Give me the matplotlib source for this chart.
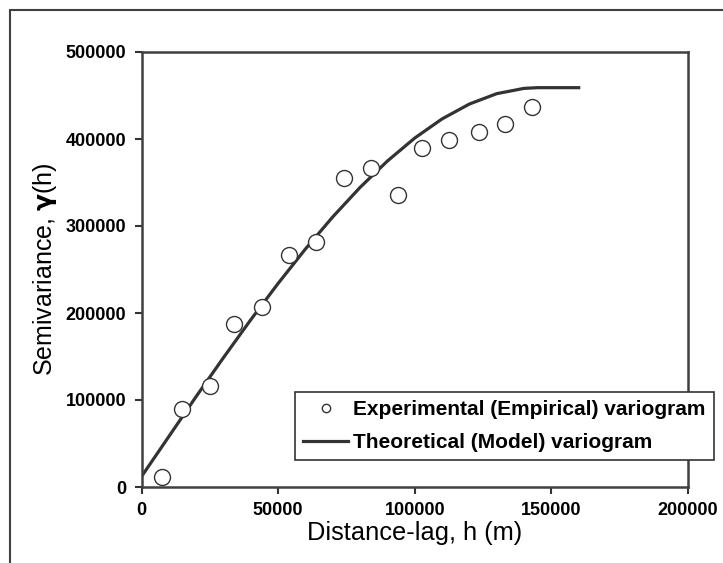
import matplotlib
matplotlib.use("Agg")
import matplotlib.pyplot as plt
from matplotlib.patches import Rectangle

# Experimental (empirical) variogram points
lag_h = [7500, 15000, 25000, 34000, 44000, 54000, 64000, 74000, 84000,
         94000, 102500, 112500, 123500, 133000, 143000]
semivar = [11000, 90000, 116000, 187000, 207000, 267000, 282000, 355000,
           367000, 336000, 390000, 399000, 408000, 417000, 437000]

# Theoretical (model) variogram
model_h = [0, 10000, 20000, 30000, 40000, 50000, 60000, 70000, 80000,
           90000, 100000, 110000, 120000, 130000, 140000, 145000, 160000]
model_gamma = [12000, 58000, 104000, 148700, 192300, 234000, 273600, 310500,
               344400, 374700, 401100, 423100, 440200, 452100, 458200,
               459000, 459000]

x_ticks = [0, 50000, 100000, 150000, 200000]
y_ticks = [0, 100000, 200000, 300000, 400000, 500000]

plt.rcParams['font.family'] = ['Liberation Sans', 'DejaVu Sans']

W, H = 723, 563
fig = plt.figure(figsize=(W / 100, H / 100), dpi=100)
fig.patch.set_facecolor('white')

# outer chart-area frame (partly cropped by the image edge)
fig.add_artist(Rectangle((10 / W, -0.2), 1.5, (H - 10) / H + 0.2,
                         transform=fig.transFigure, fill=False,
                         edgecolor='#404040', linewidth=1.5))

ax = fig.add_axes([141.5 / W, (H - 487) / H, (688 - 141.5) / W, (487 - 52) / H])

ax.plot(model_h, model_gamma, color='#333333', linewidth=2.3,
        label='Theoretical (Model) variogram', zorder=2)
ax.plot(lag_h, semivar, linestyle='none', marker='o', markersize=11.5,
        markerfacecolor='white', markeredgecolor='#333333',
        markeredgewidth=1.0, label='Experimental (Empirical) variogram',
        zorder=3)

ax.set_xlim(0, 200000)
ax.set_ylim(0, 500000)
ax.set_xticks(x_ticks)
ax.set_yticks(y_ticks)
ax.set_xticklabels([str(v) for v in x_ticks], fontsize=13, fontweight='bold')
ax.set_yticklabels([str(v) for v in y_ticks], fontsize=13, fontweight='bold')
ax.tick_params(axis='both', direction='out', length=5, width=1.5,
               color='#333333', pad=6)
for s in ax.spines.values():
    s.set_linewidth(1.8)
    s.set_color('#404040')

ax.set_xlabel('Distance-lag, h (m)', fontsize=18.3, labelpad=1)
ax.set_ylabel('Semivariance, $\\mathbf{\\gamma}$(h)', fontsize=18, labelpad=5)

handles, labels = ax.get_legend_handles_labels()
leg = ax.legend(handles[::-1], labels[::-1], loc='upper left',
                bbox_to_anchor=((295 - 141.5) / (688 - 141.5),
                                (487 - 392) / (487 - 52)),
                prop={'weight': 'bold', 'size': 15.0}, frameon=True,
                fancybox=False, framealpha=1, edgecolor='#333333',
                borderpad=0.4, handlelength=2.15, handletextpad=0.25,
                labelspacing=0.65, borderaxespad=0)
leg.get_frame().set_linewidth(1.2)
leg.legend_handles[0].set_markersize(6)
leg.set_clip_on(False)

fig.savefig('out.png', dpi=100, facecolor='white')
